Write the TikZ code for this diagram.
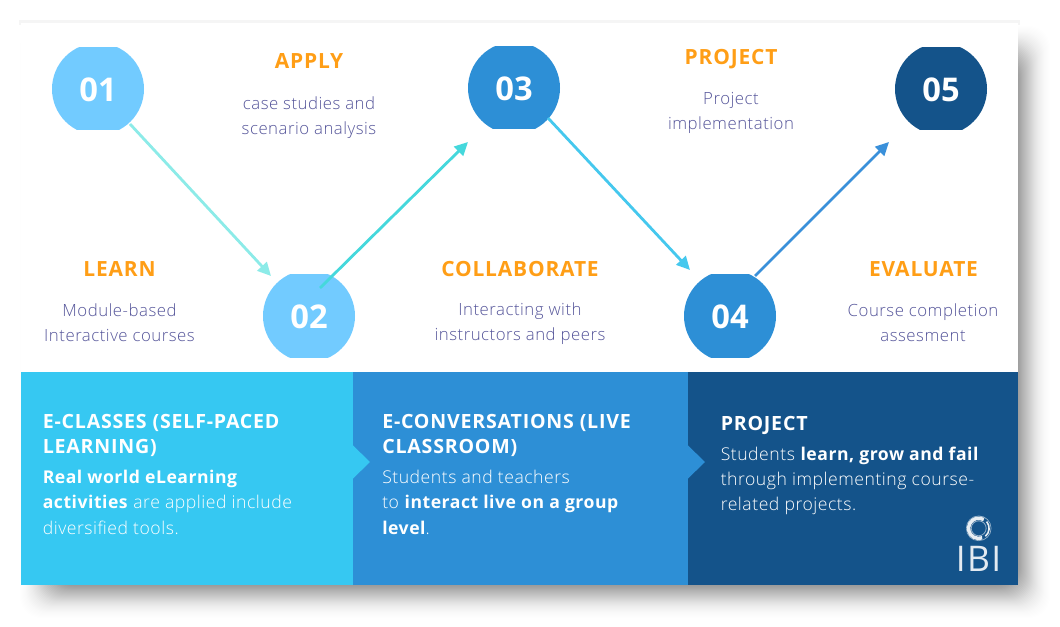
\documentclass[tikz,border=0pt]{standalone}
\usepackage{fontspec}
\setmainfont{Open Sans}
\newfontfamily\headf[LetterSpace=4]{Open Sans}
\newfontfamily\numf{Open Sans}
\newfontfamily\bodyf[LetterSpace=3,BoldFont={Open Sans Bold}]{Open Sans Light}
\usetikzlibrary{arrows.meta}
\definecolor{cLight}{HTML}{72CBFF}
\definecolor{cMid}{HTML}{2D8FD6}
\definecolor{cDark}{HTML}{14538A}
\definecolor{cCyan}{HTML}{36C8F2}
\definecolor{cOrange}{HTML}{FF9E16}
\definecolor{cBody}{HTML}{55559A}
\definecolor{aOne}{HTML}{8CEBE8}
\definecolor{aTwo}{HTML}{45D8DC}
\definecolor{aThree}{HTML}{45C8EE}
\definecolor{aFour}{HTML}{3A90DA}
\tikzset{
  x=0.75pt,y=-0.75pt,
  num/.style={circle,minimum size=69pt,inner sep=0pt,text=white,font=\numf\fontsize{24.5}{26}\selectfont\bfseries},
  head/.style={text=cOrange,inner sep=0pt,font=\headf\fontsize{15.7}{18}\selectfont\bfseries},
  sub/.style={text=cBody,inner sep=0pt,align=center,font=\bodyf\fontsize{12.6}{18.75}\selectfont},
  bandhead/.style={text=white,inner sep=0pt,anchor=north west,align=left,font=\headf\fontsize{14.7}{18.75}\selectfont\bfseries},
  bandbody/.style={text=white,inner sep=0pt,anchor=north west,align=left,font=\bodyf\fontsize{13.2}{19}\selectfont},
  link/.style={line width=2.1pt,-{Triangle[length=10pt,width=9.5pt]},shorten >=0pt},
}
\newcommand{\disc}[5]{% x y top bottom colour
  \begin{scope}
    \clip (#1-50,#3) rectangle (#1+50,#4);
    \fill[#5] (#1,#2) circle[radius=34.5pt];
  \end{scope}}
\begin{document}
\begin{tikzpicture}
\useasboundingbox (0,0) rectangle (1060,627);
\fill[white] (0,0) rectangle (1060,627);
% soft shadow
\foreach \i in {0,1,...,32}{
  \pgfmathsetmacro{\op}{0.002+0.0007*\i}
  \fill[black,fill opacity=\op,rounded corners=16pt]
    (20+\i,26+\i) rectangle (1050-\i,618-\i);
}
\fill[black!4] (19,20) rectangle (1020,25);
% panel
\fill[white] (21,23) rectangle (1018,372);
\fill[cCyan] (21,372) rectangle (353,585);
\fill[cMid] (353,372) rectangle (688,585);
\fill[cDark] (688,372) rectangle (1018,585);
\fill[cCyan] (352.5,445) -- (370,462) -- (352.5,479) -- cycle;
\fill[cMid] (687.5,445) -- (705,462) -- (687.5,479) -- cycle;
% discs
\disc{98}{89}{48}{130}{cLight}
\disc{309}{316}{275}{357}{cLight}
\disc{514}{88}{47}{129}{cMid}
\disc{730}{316}{275}{357}{cMid}
\disc{941}{89}{48}{130}{cDark}
\node[num] (n1) at (98,90) {01};
\node[num] (n2) at (309,317) {02};
\node[num] (n3) at (514,89) {03};
\node[num] (n4) at (730,317) {04};
\node[num] (n5) at (941,90) {05};
% connectors
\coordinate (s1) at (130,124); \coordinate (e1) at (271,276);
\coordinate (s2) at (320,288); \coordinate (e2) at (468,142);
\coordinate (s3) at (548,118); \coordinate (e3) at (690,270);
\coordinate (s4) at (755,276); \coordinate (e4) at (889,142);
\draw[link,aOne] (s1) -- (e1);
\draw[link,aTwo] (s2) -- (e2);
\draw[link,aThree] (s3) -- (e3);
\draw[link,aFour] (s4) -- (e4);
% titles
\node[head] (t1) at (119.5,269) {LEARN};
\node[head] (t2) at (309,61) {APPLY};
\node[head] (t3) at (520,269) {COLLABORATE};
\node[head] (t4) at (731,59) {PROJECT};
\node[head] (t5) at (923.5,269) {EVALUATE};
\node[sub] (d1) at (119.5,323) {Module-based\\Interactive courses};
\node[sub] (d2) at (309,117.5) {case studies and\\scenario analysis};
\node[sub] (d3) at (520,324) {Interacting with\\instructors and peers};
\node[sub] (d4) at (731,112.5) {Project\\implementation};
\node[sub] (d5) at (923,323) {Course completion\\assesment};
% band text
\node[bandhead] (b1) at (42.5,414) {E-CLASSES (SELF-PACED\\LEARNING)};
\node[bandbody] (p1) at (42.5,470) {\textbf{Real world eLearning}\\\textbf{activities} are applied include\\diversified tools.};
\node[bandhead] (b2) at (382,414) {E-CONVERSATIONS (LIVE\\CLASSROOM)};
\node[bandbody] (p2) at (382,470) {Students and teachers\\to \textbf{interact live on a group}\\\textbf{level}.};
\node[bandhead] (b3) at (720.5,416) {PROJECT};
\node[bandbody] (p3) at (720.5,446.5) {Students \textbf{learn, grow and fail}\\through implementing course-\\related projects.};
% logo
\draw[white!55!cDark,line width=0.5pt] (978.7,528.3) circle[radius=9.3pt];
\draw[white!55!cDark,line width=0.6pt] (978.7,528.3) circle[radius=5.6pt];
\draw[white!90!cDark,line width=2.6pt] (978.7,528.3) ++(60:7.6pt) arc[start angle=60,end angle=290,radius=7.6pt];
\draw[white!90!cDark,line width=1.2pt] (978.7,528.3) ++(-50:7.8pt) arc[start angle=-50,end angle=40,radius=7.8pt];
\node[text=white!88!cDark,inner sep=0pt,font=\headf\fontsize{26.5}{29}\selectfont] (logo) at (978.5,558.5) {IBI};
\end{tikzpicture}
\end{document}
